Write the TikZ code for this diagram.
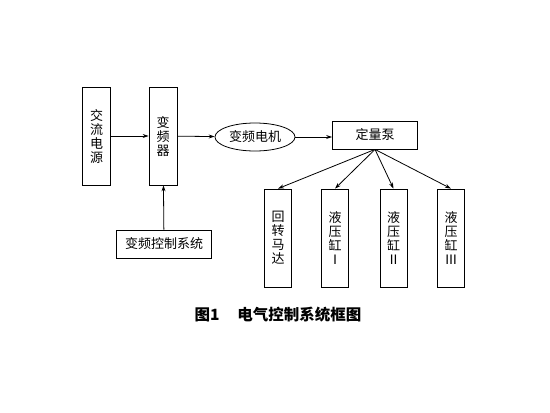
\documentclass[tikz,border=0pt]{standalone}
\usepackage{fontspec}
\newfontfamily\cjk{Noto Sans CJK SC}
\usetikzlibrary{positioning,arrows.meta,shapes}
\tikzset{
  block/.style={draw=black, line width=0.8pt, inner sep=0pt, align=center,
    font=\cjk\fontsize{13}{14}\selectfont},
  tall/.style={block, minimum width=28pt, minimum height=98pt},
  wide/.style={block, minimum height=28pt},
  flow/.style={line width=0.8pt, -{Stealth[length=6pt,width=4pt]}}
}
\begin{document}
\begin{tikzpicture}[x=1pt, y=-1pt]
    \useasboundingbox (0,0) rectangle (550,413);

    \node[tall] (ac)  at (96.7,136) {交\\流\\电\\源};
    \node[tall] (inv) at (163,136)  {变\\频\\器};
    \node[block, ellipse, minimum width=80pt, minimum height=28pt] (motor) at (255,137) {变频电机};
    \node[wide, minimum width=85pt] (pump) at (375,135) {定量泵};
    \node[wide, minimum width=95pt] (ctrl) at (164,244) {变频控制系统};

    \node[tall, minimum width=27pt] (m0) at (278,238)   {回\\转\\马\\达};
    \node[tall, minimum width=27pt] (m1) at (335,238)   {液\\压\\缸\\Ⅰ};
    \node[tall, minimum width=27pt] (m2) at (393.5,238) {液\\压\\缸\\Ⅱ};
    \node[tall, minimum width=27pt] (m3) at (451,238)   {液\\压\\缸\\Ⅲ};

    \draw[flow] (ac)    -- (inv);
    \draw[flow] (inv)   -- (motor);
    \draw[flow] (motor) -- (motor -| pump.west);
    \draw[flow] (ctrl)  -- (inv);
    \foreach \m in {m0,m1,m2,m3}
      \draw[flow] (pump.south) -- (\m.north);

    \node[font=\cjk\bfseries\fontsize{15.5}{17}\selectfont] (cap) at (278,315) {图1\hspace{18pt}电气控制系统框图};
  \end{tikzpicture}
\end{document}
